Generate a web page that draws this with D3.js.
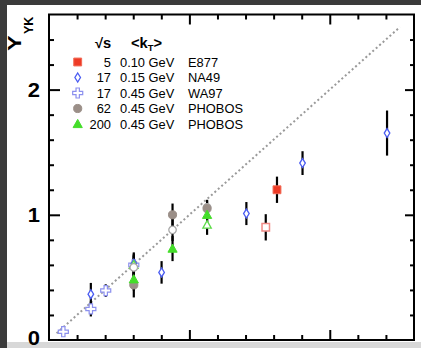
<!DOCTYPE html>
<html>
<head>
<meta charset="utf-8">
<script src="https://cdn.jsdelivr.net/npm/d3@7"></script>
<style>
body { margin: 0; background: #3b3b3b; }
svg { display: block; }
</style>
</head>
<body>
<script>
// points are [x, Y_YK, error]
var e877 = [[8.12, 1.20, 0.105]];
var e877Open = [[7.72, 0.90, 0.105]];
var na49 = [[1.49, 0.366, 0.09], [3.02, 0.61, 0.09], [4.01, 0.54, 0.09], [7.03, 1.01, 0.092], [9.03, 1.413, 0.095], [12.04, 1.653, 0.18]];
var wa97 = [[0.51, 0.066, 0.02], [1.49, 0.248, 0.06], [2.02, 0.395, 0.05], [3.02, 0.60, 0.08]];
var phobos62 = [[3.02, 0.44, 0.1], [4.40, 1.0, 0.09], [5.63, 1.05, 0.065]];
var phobos62Open = [[3.02, 0.58, 0.09], [4.40, 0.88, 0.09], [5.63, 1.06, 0.06]];
var phobos200 = [[3.02, 0.485, 0.09], [4.40, 0.73, 0.1], [5.63, 1.0, 0.07]];
var phobos200Open = [[3.02, 0.60, 0.09], [5.63, 0.92, 0.08]];

// dotted reference line
var diagX = [0.27, 12.5];
var diagY = [0.054, 2.5];

// legend
var legendSqrtS = ['5', '17', '17', '62', '200'];
var legendKt = ['0.10 GeV', '0.15 GeV', '0.45 GeV', '0.45 GeV', '0.45 GeV'];
var legendExp = ['E877', 'NA49', 'WA97', 'PHOBOS', 'PHOBOS'];
var legendKind = ['square', 'diamond', 'cross', 'circle', 'triangle'];

var yLabels = [0, 1, 2];
var xMinorTicks = [1, 2, 3, 4, 6, 7, 8, 9, 11, 12];
var xMajorTicks = [5, 10];
var yMinorTicks = [0.2, 0.4, 0.6, 0.8, 1.2, 1.4, 1.6, 1.8, 2.2, 2.4];
var yMajorTicks = [1, 2];

var W = 421, H = 348;
var font = 'Liberation Sans, Arial, Helvetica, sans-serif';

var svg = d3.select('body').append('svg')
    .attr('width', W).attr('height', H);

svg.append('rect').attr('width', W).attr('height', H).attr('fill', '#3b3b3b');
svg.append('rect').attr('x', 7).attr('y', 5).attr('width', W - 7).attr('height', 337).attr('fill', '#fff');
svg.append('rect').attr('x', 7).attr('y', 342).attr('width', W - 7).attr('height', 6).attr('fill', '#d8d8d8');

var x = d3.scaleLinear().domain([0, 13]).range([49, 414]);
var y = d3.scaleLinear().domain([0, 2.6]).range([340, 14.5]);

// text with a bit of horizontal stretch, like the original
function txt(g, px, py, str, size, opts) {
    opts = opts || {};
    var t = g.append('text')
        .attr('transform', 'translate(' + px + ',' + py + ') scale(' + (opts.sx || 1) + ',1)')
        .attr('font-family', font)
        .attr('font-size', size)
        .attr('font-weight', opts.bold ? 'bold' : 'normal')
        .attr('text-anchor', opts.anchor || 'start')
        .attr('fill', '#000')
        .text(str);
    return t;
}

// axes ticks (inward)
function ticks(axis, vals, len, tr) {
    var g = svg.append('g').attr('transform', tr)
        .call(axis.tickValues(vals).tickSize(len).tickFormat(''));
    g.select('.domain').remove();
    g.selectAll('line').attr('stroke', '#000').attr('stroke-width', 2);
}
ticks(d3.axisTop(x), xMinorTicks, 5, 'translate(0,' + y(0) + ')');
ticks(d3.axisTop(x), xMajorTicks, 10, 'translate(0,' + y(0) + ')');
ticks(d3.axisBottom(x), xMinorTicks, 5, 'translate(0,' + y(2.6) + ')');
ticks(d3.axisBottom(x), xMajorTicks, 10, 'translate(0,' + y(2.6) + ')');
ticks(d3.axisRight(y), yMinorTicks, 5, 'translate(' + x(0) + ',0)');
ticks(d3.axisRight(y), yMajorTicks, 11, 'translate(' + x(0) + ',0)');
ticks(d3.axisLeft(y), yMinorTicks, 4, 'translate(' + x(13) + ',0)');
ticks(d3.axisLeft(y), yMajorTicks, 9, 'translate(' + x(13) + ',0)');

yLabels.forEach(function(v) {
    txt(svg, 40, Math.min(y(v) + 7.5, 345), String(v), 20, {bold: true, anchor: 'end', sx: 1.1});
});

// y title
var yt = svg.append('g').attr('transform', 'translate(21,51) rotate(-90)');
txt(yt, 0, 0, 'Y', 18, {bold: true, sx: 1.3});
txt(yt, 17, 12, 'YK', 12.5, {bold: true});

// dotted line
svg.append('line')
    .attr('x1', x(diagX[0])).attr('y1', y(diagY[0]))
    .attr('x2', x(diagX[1])).attr('y2', y(diagY[1]))
    .attr('stroke', '#9a9a9a').attr('stroke-width', 2)
    .attr('stroke-dasharray', '2,2.6');

// markers
var styles = {
    square: {fill: '#ee3b26', stroke: '#f26a55', w: 1},
    squareOpen: {fill: '#fff', stroke: '#f08a86', w: 1.5},
    diamond: {fill: '#fff', stroke: '#4a5cf2', w: 1.3},
    cross: {fill: '#fff', stroke: '#8c90ee', w: 1.2},
    circle: {fill: '#9b8f88', stroke: '#9b8f88', w: 1},
    circleOpen: {fill: '#fff', stroke: '#a8a8a8', w: 1.3},
    triangle: {fill: '#44dd2a', stroke: '#44dd2a', w: 1},
    triangleOpen: {fill: '#fff', stroke: '#5fdc4a', w: 1.3}
};
var shapes = {
    square: d3.symbol(d3.symbolSquare, 62)(),
    squareOpen: d3.symbol(d3.symbolSquare, 56)(),
    diamond: 'M0,-4.5L2.8,0L0,4.5L-2.8,0Z',
    cross: d3.symbol(d3.symbolCross, 56)(),
    circle: d3.symbol(d3.symbolCircle, 52)(),
    circleOpen: d3.symbol(d3.symbolCircle, 44)(),
    triangle: 'M0,-4.6L4.6,3.6L-4.6,3.6Z',
    triangleOpen: 'M0,-4.2L4.2,3.4L-4.2,3.4Z'
};

function marker(g, kind, px, py) {
    var s = styles[kind];
    g.append('path')
        .attr('d', shapes[kind])
        .attr('transform', 'translate(' + px + ',' + py + ')')
        .attr('fill', s.fill).attr('stroke', s.stroke).attr('stroke-width', s.w);
}

var series = [
    [wa97, 'cross'], [na49, 'diamond'], [phobos200Open, 'triangleOpen'],
    [phobos62Open, 'circleOpen'], [phobos62, 'circle'], [phobos200, 'triangle'],
    [e877Open, 'squareOpen'], [e877, 'square']
];

var errG = svg.append('g');
series.forEach(function(s) {
    errG.selectAll(null).data(s[0]).enter().append('line')
        .attr('x1', function(d) { return x(d[0]); })
        .attr('x2', function(d) { return x(d[0]); })
        .attr('y1', function(d) { return y(d[1] - d[2]); })
        .attr('y2', function(d) { return y(d[1] + d[2]); })
        .attr('stroke', '#000').attr('stroke-width', 2.2);
});
var mG = svg.append('g');
series.forEach(function(s) {
    s[0].forEach(function(d) { marker(mG, s[1], x(d[0]), y(d[1])); });
});

// frame
svg.append('rect')
    .attr('x', x(0)).attr('y', y(2.6))
    .attr('width', x(13) - x(0)).attr('height', y(0) - y(2.6))
    .attr('fill', 'none').attr('stroke', '#000').attr('stroke-width', 2);

// legend
var lg = svg.append('g');
var rowY = [62, 77.5, 93, 108.5, 124];
txt(lg, 95, 48, '\u221As', 14, {bold: true, sx: 1.05});
var kt = lg.append('text')
    .attr('transform', 'translate(131,48) scale(1.05,1)')
    .attr('font-family', font).attr('font-size', 14).attr('font-weight', 'bold');
kt.append('tspan').text('<k');
kt.append('tspan').attr('font-size', 9).attr('dy', 3).text('T');
kt.append('tspan').attr('dy', -3).text('>');

legendKind.forEach(function(k, i) {
    marker(lg, k, 77.7, rowY[i]);
    txt(lg, 111, rowY[i] + 4.5, legendSqrtS[i], 12.5, {anchor: 'end', sx: 1.03});
    txt(lg, 120, rowY[i] + 4.5, legendKt[i], 12.5, {sx: 1.03});
    txt(lg, 188, rowY[i] + 4.5, legendExp[i], 12.5, {sx: 1.03});
});
</script>
</body>
</html>
